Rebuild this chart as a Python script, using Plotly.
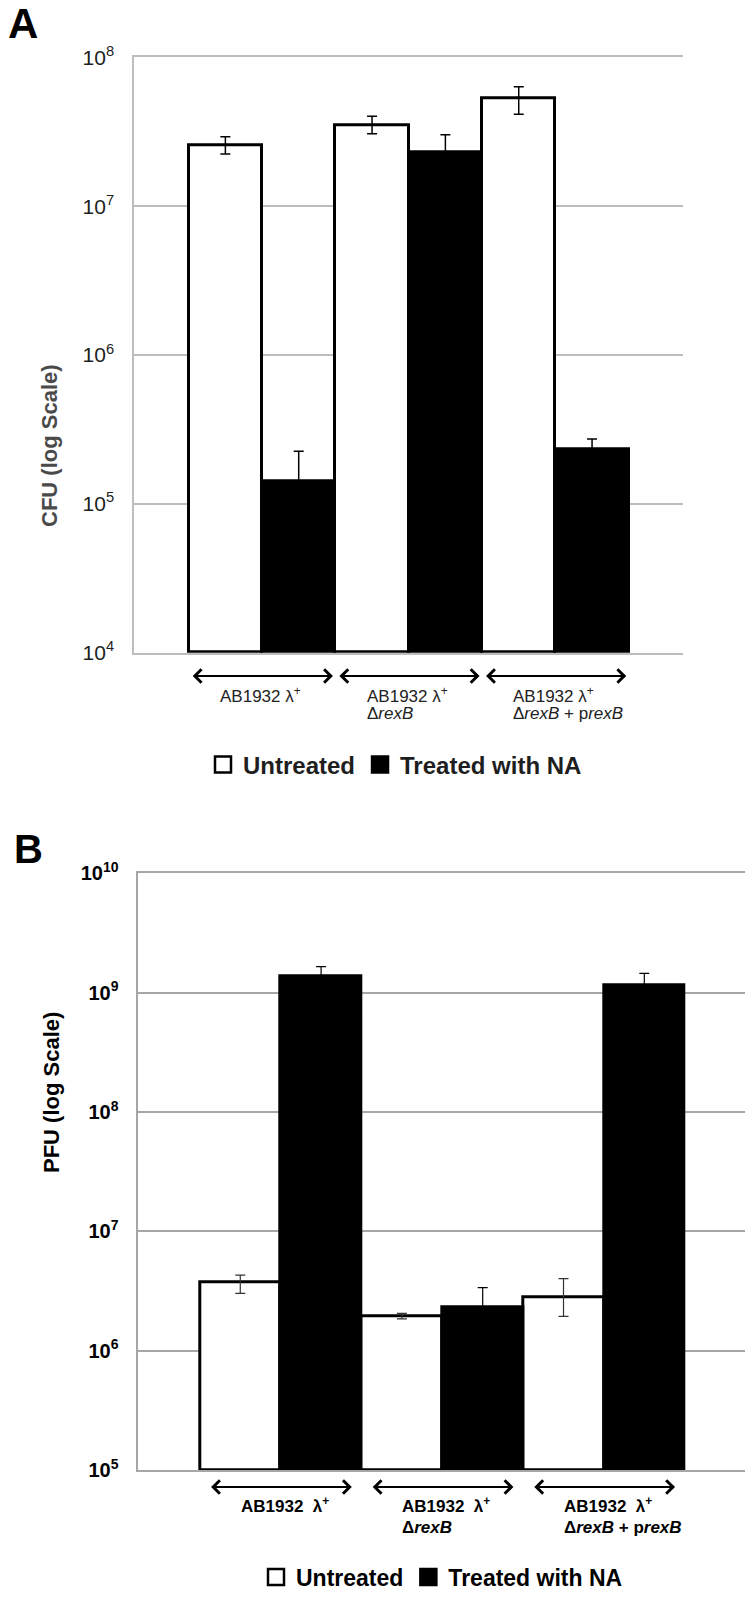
import plotly.graph_objects as go

W, H = 754, 1599
FONT = "Arial, Liberation Sans, sans-serif"

# ---------------- data ----------------
series_names = ["Untreated", "Treated with NA"]
group_index = [0, 1, 2]
labels_a_line1 = ["AB1932 λ<sup>+</sup>", "AB1932 λ<sup>+</sup>", "AB1932 λ<sup>+</sup>"]
labels_a_line2 = ["", "Δ<i>rexB</i>", "Δ<i>rexB</i> + p<i>rexB</i>"]
labels_b_line1 = ["AB1932  λ<sup>+</sup>", "AB1932  λ<sup>+</sup>", "AB1932  λ<sup>+</sup>"]
labels_b_line2 = ["", "Δ<i>rexB</i>", "Δ<i>rexB</i> + p<i>rexB</i>"]

# Panel A: CFU
cfu_untreated = [2.55e7, 3.50e7, 5.30e7]
cfu_untreated_err_plus = [0.38e7, 0.51e7, 1.05e7]
cfu_untreated_err_minus = [0.31e7, 0.43e7, 1.16e7]
cfu_treated = [1.41e5, 2.29e7, 2.32e5]
cfu_treated_err_plus = [0.85e5, 0.73e7, 0.41e5]
cfu_treated_err_minus = [0.85e5, 0.73e7, 0.41e5]
cfu_tickvals = [1e4, 1e5, 1e6, 1e7, 1e8]
cfu_ticktext = ["10<sup>4</sup>", "10<sup>5</sup>", "10<sup>6</sup>", "10<sup>7</sup>", "10<sup>8</sup>"]

# Panel B: PFU
pfu_untreated = [3.73e6, 1.95e6, 2.82e6]
pfu_untreated_err_plus = [0.57e6, 0.10e6, 1.20e6]
pfu_untreated_err_minus = [0.71e6, 0.10e6, 0.88e6]
pfu_treated = [1.36e9, 2.31e6, 1.16e9]
pfu_treated_err_plus = [0.29e9, 1.06e6, 0.29e9]
pfu_treated_err_minus = [0.29e9, 1.06e6, 0.29e9]
pfu_tickvals = [1e5, 1e6, 1e7, 1e8, 1e9, 1e10]
pfu_ticktext = ["10<sup>5</sup>", "10<sup>6</sup>", "10<sup>7</sup>", "10<sup>8</sup>",
                "10<sup>9</sup>", "10<sup>10</sup>"]


def py(p):
    return 1 - p / H


def px(p):
    return p / W


fig = go.Figure()

BAR_OFFSET = 0.25  # centre offset of each bar inside a group of two (bar width 0.5)


def add_panel(xa, ya, untreated, u_plus, u_minus, treated, t_plus, t_minus, base,
              legend_name, err_colors, err_thick):
    fills = ["white", "black"]
    vals = [untreated, treated]
    plus = [u_plus, t_plus]
    minus = [u_minus, t_minus]
    for i in range(2):
        fig.add_trace(go.Bar(
            x=group_index, y=[v - base for v in vals[i]], base=base,
            name=series_names[i], offsetgroup=str(i),
            marker=dict(color=fills[i], line=dict(color="black", width=3)),
            cliponaxis=False, showlegend=False, xaxis=xa, yaxis=ya,
        ))
    for i in range(2):
        sign = -1 if i == 0 else 1
        fig.add_trace(go.Scatter(
            x=[g + sign * BAR_OFFSET for g in group_index], y=vals[i],
            mode="markers", marker=dict(size=1, color="rgba(0,0,0,0)"),
            error_y=dict(type="data", symmetric=False, array=plus[i], arrayminus=minus[i],
                         color=err_colors[i], thickness=err_thick, width=5),
            showlegend=False, hoverinfo="skip", xaxis=xa, yaxis=ya,
        ))
    for i in range(2):
        fig.add_trace(go.Scatter(
            x=[None], y=[None], mode="markers", name=series_names[i],
            marker=dict(symbol="square", size=16, color=fills[i],
                        line=dict(color="black", width=2.5)),
            legend=legend_name, xaxis=xa, yaxis=ya,
        ))


add_panel("x", "y", cfu_untreated, cfu_untreated_err_plus, cfu_untreated_err_minus,
          cfu_treated, cfu_treated_err_plus, cfu_treated_err_minus, cfu_tickvals[0],
          "legend", ["black", "black"], 1.5)
add_panel("x2", "y2", pfu_untreated, pfu_untreated_err_plus, pfu_untreated_err_minus,
          pfu_treated, pfu_treated_err_plus, pfu_treated_err_minus, pfu_tickvals[0],
          "legend2", ["#333333", "black"], 1.2)

annotations = []

# Panel letters
annotations.append(dict(text="<b>A</b>", x=px(6), y=py(24), xref="paper", yref="paper",
                        xanchor="left", yanchor="middle", showarrow=False,
                        font=dict(size=42, family=FONT, color="black")))
annotations.append(dict(text="<b>B</b>", x=px(12), y=py(849), xref="paper", yref="paper",
                        xanchor="left", yanchor="middle", showarrow=False,
                        font=dict(size=40, family=FONT, color="black")))

# Y axis titles
annotations.append(dict(text="<b>CFU (log Scale)</b>", x=px(35), y=py(362), xref="paper",
                        yref="paper", textangle=-90, showarrow=False,
                        font=dict(size=22, family=FONT, color="#4a4a4a")))
annotations.append(dict(text="<b>PFU (log Scale)</b>", x=px(37), y=py(1175), xref="paper",
                        yref="paper", textangle=-90, showarrow=False,
                        font=dict(size=22, family=FONT, color="black")))


def group_labels(xref, arrow_y, half, l1, l2, y1, y2, left_off, size, bold, color):
    for g in group_index:
        annotations.append(dict(
            x=g + half, y=py(arrow_y), xref=xref, yref="paper",
            ax=g - half, ay=0, axref=xref, ayref="pixel",
            text="", showarrow=True, arrowside="end+start", arrowhead=4,
            arrowsize=1.3, arrowwidth=2, arrowcolor="black", standoff=0, startstandoff=0,
        ))
        t1 = f"<b>{l1[g]}</b>" if bold else l1[g]
        annotations.append(dict(text=t1, x=g - left_off, y=py(y1), xref=xref, yref="paper",
                                xanchor="left", yanchor="middle", showarrow=False,
                                font=dict(size=size, family=FONT, color=color)))
        if l2[g]:
            t2 = f"<b>{l2[g]}</b>" if bold else l2[g]
            annotations.append(dict(text=t2, x=g - left_off, y=py(y2), xref=xref, yref="paper",
                                    xanchor="left", yanchor="middle", showarrow=False,
                                    font=dict(size=size, family=FONT, color=color)))


group_labels("x", 676, 0.483, labels_a_line1, labels_a_line2, 695, 714, 0.30, 17, False, "#222222")
group_labels("x2", 1487, 0.44, labels_b_line1, labels_b_line2, 1505, 1527, 0.26, 17, True, "black")

GRID_A = "#bdbdbd"
GRID_B = "#a6a6a6"

fig.update_layout(
    width=W, height=H,
    margin=dict(l=0, r=0, t=0, b=0, pad=0, autoexpand=False),
    paper_bgcolor="white", plot_bgcolor="white",
    barmode="group", bargap=0, bargroupgap=0,
    font=dict(family=FONT, color="black"),
    annotations=annotations,
    xaxis=dict(domain=[px(134), px(683)], range=[-0.873, 2.87], anchor="y",
               showgrid=False, zeroline=False, showticklabels=False, ticks="",
               showline=True, mirror=True, linecolor=GRID_A, linewidth=1.5, fixedrange=True),
    yaxis=dict(domain=[py(652.7), py(57.3)], type="log", range=[4, 8], anchor="x",
               tickvals=cfu_tickvals, ticktext=cfu_ticktext, ticks="",
               ticklabelstandoff=14,
               tickfont=dict(size=21, family=FONT, color="#1e1e1e"),
               showgrid=True, gridcolor=GRID_A, gridwidth=1.5, zeroline=False,
               showline=True, linecolor=GRID_A, linewidth=1.5, fixedrange=True),
    xaxis2=dict(domain=[px(138.3), px(745)], range=[-0.881, 2.873], anchor="y2",
                showgrid=False, zeroline=False, showticklabels=False, ticks="",
                showline=True, mirror=True, linecolor=GRID_B, linewidth=1.5, fixedrange=True),
    yaxis2=dict(domain=[py(1470), py(873.3)], type="log", range=[5, 10], anchor="x2",
                tickvals=pfu_tickvals, ticktext=[f"<b>{t}</b>" for t in pfu_ticktext],
                ticks="", ticklabelstandoff=14,
                tickfont=dict(size=20, family=FONT, color="black"),
                showgrid=True, gridcolor=GRID_B, gridwidth=1.5, zeroline=False,
                showline=True, linecolor=GRID_B, linewidth=1.5, fixedrange=True),
    legend=dict(orientation="h", x=px(395), xanchor="center", y=py(765), yanchor="middle",
                font=dict(size=24, family=FONT, color="#1e1e1e", weight="bold"),
                bgcolor="rgba(0,0,0,0)", itemwidth=30),
    legend2=dict(orientation="h", x=px(442), xanchor="center", y=py(1577), yanchor="middle",
                 font=dict(size=23, family=FONT, color="black", weight="bold"),
                 bgcolor="rgba(0,0,0,0)", itemwidth=30),
)

fig.write_html(
    "out.html",
    config={"displayModeBar": False},
    post_script="document.body.style.margin='0px';document.body.style.overflow='hidden';",
)
